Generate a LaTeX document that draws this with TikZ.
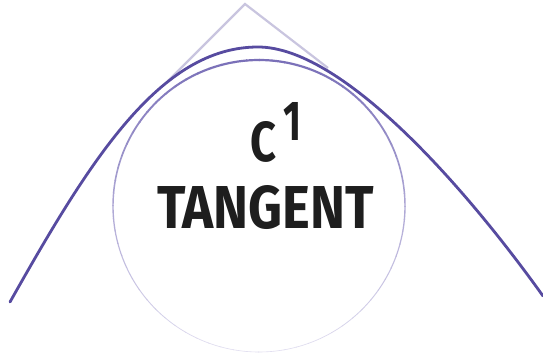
\documentclass[tikz,border=0pt]{standalone}
\usepackage{fontspec}
\setmainfont{Fira Sans}
\definecolor{curvec}{HTML}{574BA0}
\definecolor{peakc}{HTML}{C9C5DF}
\definecolor{circdark}{HTML}{7A70B8}
\definecolor{circlight}{HTML}{E2DFF1}
\definecolor{inkc}{HTML}{1E1E1E}
\begin{document}
\begin{tikzpicture}[x=1pt,y=-1pt,
  peakline/.style={draw=peakc,line width=2.2pt,line join=miter},
  maincurve/.style={draw=curvec,line width=2.8pt,line cap=round},
  label/.style={inner sep=0pt,outer sep=0pt,text=inkc,font=\bfseries}]
\useasboundingbox[fill=white] (0,0) rectangle (543,356);
\coordinate (peak) at (245,4);
\coordinate (pl) at (168,81);
\coordinate (pr) at (328,68);
\coordinate (cstart) at (10,302);
\coordinate (ctop) at (258,47);
\coordinate (cend) at (543,296);
\coordinate (cc) at (259,206);
% light peak lines
\draw[peakline] (pl) -- (peak) -- (pr);
% circle with fading stroke
\foreach \a in {0,5,...,355}{
  \pgfmathsetmacro{\t}{(1+sin(\a+2.5))/2}
  \pgfmathsetmacro{\pc}{int(100*\t)}
  \pgfmathsetmacro{\lw}{2.2-1.6*\t}
  \colorlet{segc}{circlight!\pc!circdark}
  \draw[segc,line width=\lw pt] (cc) ++(\a:146) arc[start angle=\a,end angle=\a+5.3,radius=146];
}
% main curve
\draw[maincurve] (cstart) .. controls (90,160) and (160,47) .. (ctop)
  .. controls (340,47) and (460,180) .. (cend);
% text
\node[label,anchor=south west] (cletter) at (250,162) {\resizebox{26pt}{40pt}{C}};
\node[label,anchor=south west] (sup) at (283,140) {\resizebox{18pt}{38pt}{1}};
\node[label,anchor=south west] (tangent) at (157,230) {\resizebox{217pt}{43pt}{TANGENT}};
\end{tikzpicture}
\end{document}
